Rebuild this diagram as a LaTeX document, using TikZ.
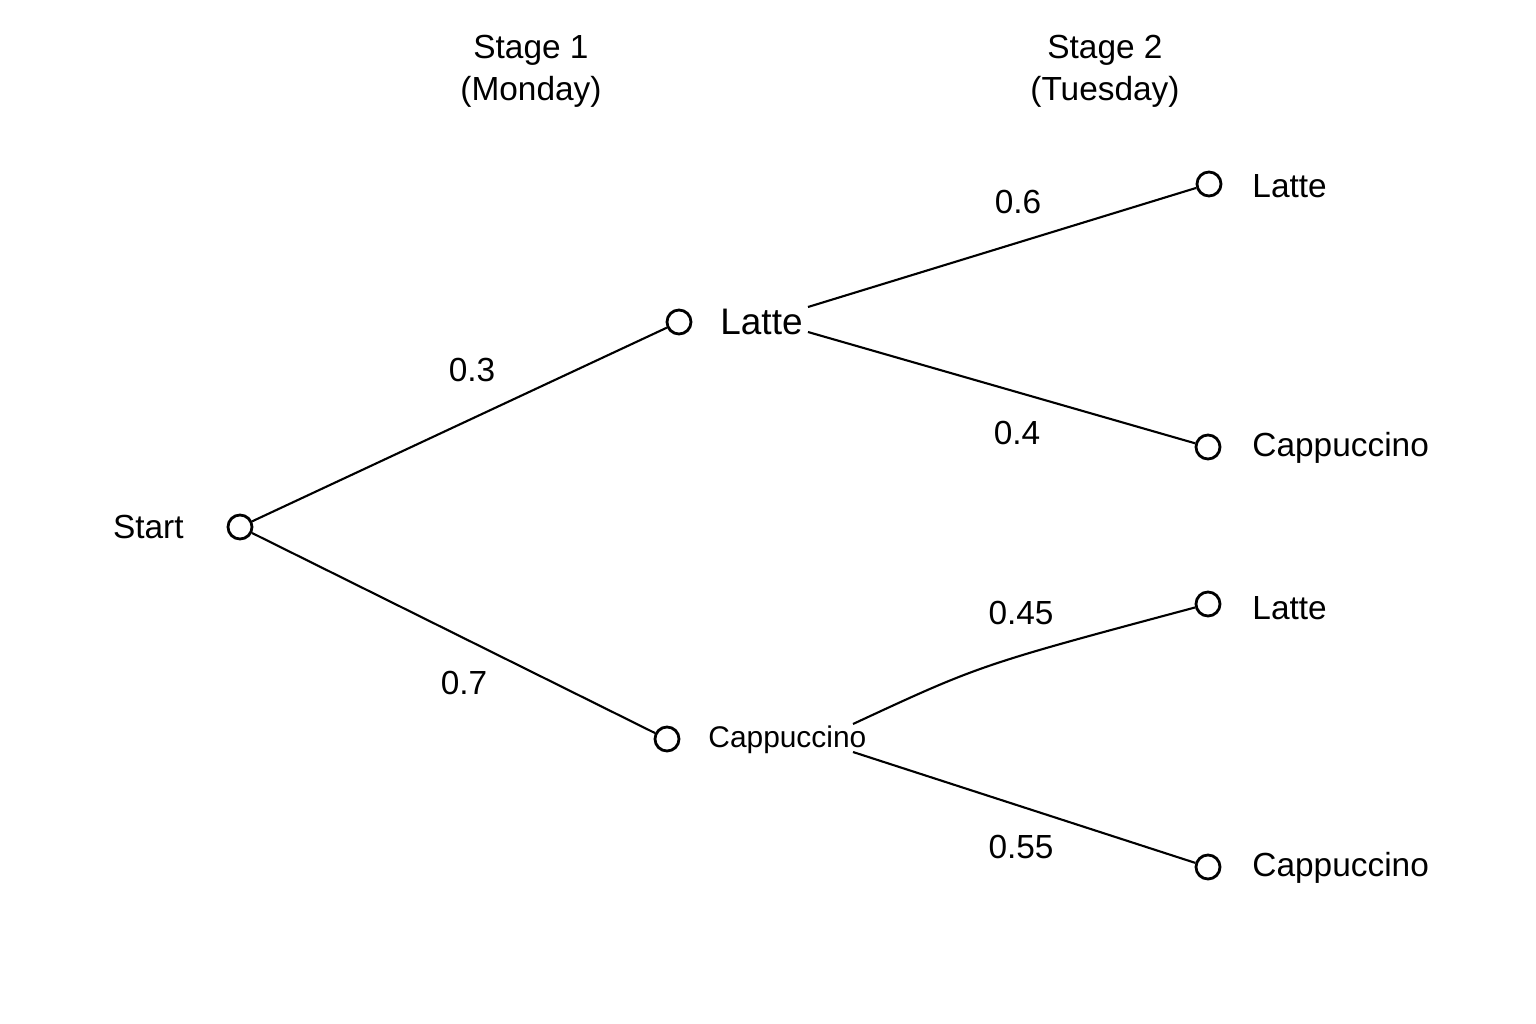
\documentclass[tikz,border=0pt]{standalone}
\usepackage{fontspec}
\setmainfont{Liberation Sans}
\begin{document}
\begin{tikzpicture}[x=0.01cm,y=-0.01cm]
    \tikzset{state/.style={draw,circle,minimum size=0.24cm,inner sep=0pt,line width=0.8pt},
             lbl/.style={font=\fontsize{9.5}{11}\selectfont},
             edge/.style={line width=0.6pt}}
    \useasboundingbox (0,0) rectangle (1536,1024);
    % headers
    \node [lbl,align=center] (h1) at (531,71) {Stage 1\\[1pt](Monday)};
    \node [lbl,align=center] (h2) at (1105,71) {Stage 2\\[1pt](Tuesday)};
    % states
    \node [state] (s) at (240,527) {};
    \node [lbl,anchor=east] (sl) at (196,527) {Start};
    \node [state] (l1) at (679,322) {};
    \node [lbl,anchor=west,font=\fontsize{10.5}{12}\selectfont] (l1l) at (708,322) {Latte};
    \node [state] (c1) at (667,739) {};
    \node [lbl,anchor=west,font=\fontsize{8.5}{10}\selectfont] (c1l) at (696,740) {Cappuccino};
    \node [state] (l2a) at (1209,184) {};
    \node [lbl,anchor=west] (l2al) at (1240,186) {Latte};
    \node [state] (c2a) at (1208,447) {};
    \node [lbl,anchor=west] (c2al) at (1240,448) {Cappuccino};
    \node [state] (l2b) at (1208,604) {};
    \node [lbl,anchor=west] (l2bl) at (1240,608) {Latte};
    \node [state] (c2b) at (1208,867) {};
    \node [lbl,anchor=west] (c2bl) at (1240,868) {Cappuccino};
    % branch ends
    \coordinate (lo1) at (808,307);
    \coordinate (lo2) at (808,332);
    \coordinate (co1) at (853,724);
    \coordinate (co2) at (853,752);
    \draw [edge] (s) -- (l1);
    \draw [edge] (s) -- (c1);
    \draw [edge] (lo1) -- (l2a);
    \draw [edge] (lo2) -- (c2a);
    \draw [edge] (co1) .. controls (980,665) .. (l2b);
    \draw [edge] (co2) -- (c2b);
    % probabilities
    \node [lbl] (p1) at (472,370) {0.3};
    \node [lbl] (p2) at (464,683) {0.7};
    \node [lbl] (p3) at (1018,202) {0.6};
    \node [lbl] (p4) at (1017,433) {0.4};
    \node [lbl] (p5) at (1021,613) {0.45};
    \node [lbl] (p6) at (1021,847) {0.55};
\end{tikzpicture}
\end{document}
